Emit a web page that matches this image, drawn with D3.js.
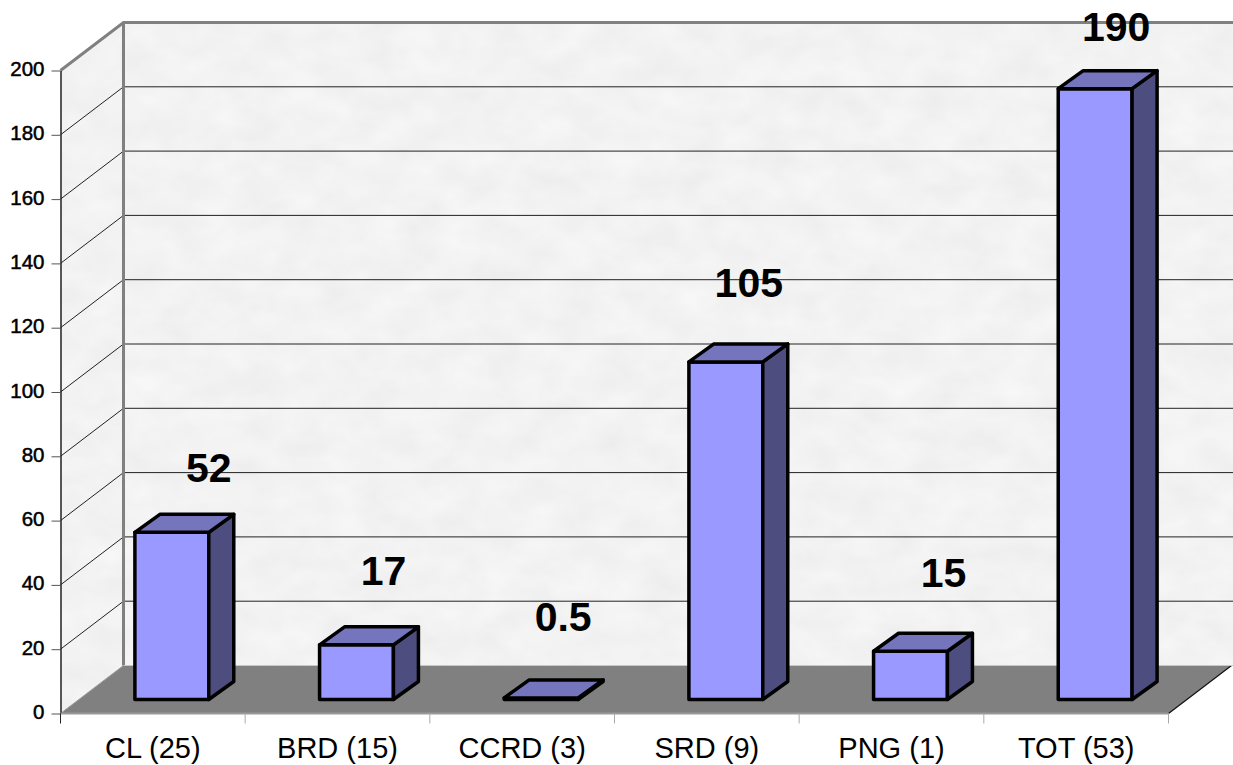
<!DOCTYPE html>
<html><head><meta charset="utf-8">
<script src="https://cdn.jsdelivr.net/npm/d3@7/dist/d3.min.js"></script>
<style>html,body{margin:0;padding:0;background:#fff}svg{display:block}
text{font-family:"Liberation Sans",Arial,sans-serif;fill:#000}</style></head>
<body><svg id="c" width="1233" height="765"></svg>
<script>
const categories = ["CL (25)","BRD (15)","CCRD (3)","SRD (9)","PNG (1)","TOT (53)"];
const values = [52,17,0.5,105,15,190];
const valueLabels = ["52","17","0.5","105","15","190"];
const yTicks = [0,20,40,60,80,100,120,140,160,180,200];
// hand-placed label offsets of the original (px from bar front centre / bar top)
const labelDx = [37,27,22,23,33,21];
const labelDy = [50,60,67,65,64,48];

const svg = d3.select("#c");
const L=60.5,R=1168.5,B=713.5,T=70.5;
const DX=63,DY=-48;          // depth of the plot box
const y=d3.scaleLinear().domain([0,200]).range([B,T]);
const x=d3.scaleBand().domain(categories).range([L,R]).paddingInner(0.6).paddingOuter(0.3);
const xEdge=d3.scaleLinear().domain([0,categories.length]).range([L,R]);
const bdx=19,bdy=-14;        // bar front offset into the depth
const ddx=25,ddy=-18;        // bar depth

const defs=svg.append("defs");
const f=defs.append("filter").attr("id","mott").attr("x",0).attr("y",0).attr("width",1).attr("height",1)
  .attr("color-interpolation-filters","sRGB");
f.append("feTurbulence").attr("type","fractalNoise").attr("baseFrequency","0.025 0.035").attr("numOctaves",3).attr("seed",7);
f.append("feColorMatrix").attr("type","matrix").attr("values","0.05 0 0 0 0.925  0.05 0 0 0 0.925  0.05 0 0 0 0.925  0 0 0 0 1");
f.append("feComposite").attr("in2","SourceAlpha").attr("operator","in");

const WR=1233;
// walls
svg.append("path").attr("d",`M${L+DX},${T+DY}H${WR}V${B+DY}H${L+DX}Z`).attr("fill","#f2f2f2").attr("filter","url(#mott)");
svg.append("path").attr("d",`M${L},${T}L${L+DX},${T+DY}V${B+DY}L${L},${B}Z`).attr("fill","#f2f2f2").attr("filter","url(#mott)");
// floor
svg.append("path").attr("d",`M${L},${B}L${L+DX},${B+DY}H${R+DX}L${R},${B}Z`).attr("fill","#808080");
svg.append("line").attr("x1",R).attr("y1",B).attr("x2",R+DX).attr("y2",B+DY).attr("stroke","#111").attr("stroke-width",1.2);
// gridlines
const grid=svg.append("g").attr("fill","none").attr("stroke","#222").attr("stroke-width",1);
yTicks.filter(t=>t>0&&t<200).forEach(t=>{
  grid.append("path").attr("d",`M${L},${y(t)}L${L+DX},${y(t)+DY}H${WR}`);
});
// wall edges
const edge=svg.append("g").attr("fill","none").attr("stroke","#808080").attr("stroke-width",3);
edge.append("path").attr("d",`M${L},${T}L${L+DX},${T+DY}H${WR}`);
edge.append("path").attr("d",`M${L+DX},${T+DY}V${B+DY}`);
svg.append("line").attr("x1",L+DX).attr("y1",B+DY).attr("x2",WR).attr("y2",B+DY).attr("stroke","#c8c8c8").attr("stroke-width",1);
svg.append("line").attr("x1",L).attr("y1",B).attr("x2",L+DX).attr("y2",B+DY).attr("stroke","#999").attr("stroke-width",1);

// axes
const ay=svg.append("g").attr("transform",`translate(${L},0)`)
  .call(d3.axisLeft(y).tickValues(yTicks).tickSize(9).tickPadding(5).tickSizeOuter(0));
ay.select(".domain").attr("stroke","#222").attr("stroke-width",1.5);
ay.selectAll(".tick line").attr("stroke","#555");
ay.selectAll("text").attr("font-size",20.5).attr("stroke","#000").attr("stroke-width",0.5).attr("dx",-2).attr("y",-1.5);
svg.append("line").attr("x1",L).attr("x2",R).attr("y1",B).attr("y2",B).attr("stroke","#999").attr("stroke-width",2);
const ax=svg.append("g").attr("transform",`translate(0,${B})`)
  .call(d3.axisBottom(x).tickSize(0).tickPadding(24).tickSizeOuter(0));
ax.select(".domain").remove();
ax.selectAll("text").attr("font-size",29).attr("dy","0.71em");
svg.append("g").selectAll("line").data(d3.range(categories.length+1)).join("line")
  .attr("x1",d=>xEdge(d)).attr("x2",d=>xEdge(d)).attr("y1",B).attr("y2",B+10)
  .attr("stroke",d=>d===0?"#222":"#aaa").attr("stroke-width",1);

// bars
const bars=svg.append("g").attr("stroke","#000").attr("stroke-width",3.5).attr("stroke-linejoin","round")
  .selectAll("g").data(categories.map((c,i)=>({c,v:values[i],i}))).join("g");
const px=d=>x(d.c)+bdx, py=d=>y(d.v)+bdy, pb=()=>y(0)+bdy;
bars.append("path").attr("fill","#9999ff")
  .attr("d",d=>`M${px(d)},${py(d)}h${x.bandwidth()}V${pb()}H${px(d)}Z`);
bars.append("path").attr("fill","#4d4d80")
  .attr("d",d=>`M${px(d)+x.bandwidth()},${py(d)}l${ddx},${ddy}V${pb()+ddy}l${-ddx},${-ddy}Z`);
bars.append("path").attr("fill","#7575bd")
  .attr("d",d=>`M${px(d)},${py(d)}l${ddx},${ddy}h${x.bandwidth()}l${-ddx},${-ddy}Z`);

// value labels
svg.append("g").selectAll("text").data(valueLabels).join("text")
  .attr("x",(d,i)=>x(categories[i])+bdx+x.bandwidth()/2+labelDx[i])
  .attr("y",(d,i)=>y(values[i])+bdy-labelDy[i])
  .attr("text-anchor","middle").attr("font-size",41).attr("font-weight","bold")
  .text(d=>d);
</script></body></html>
